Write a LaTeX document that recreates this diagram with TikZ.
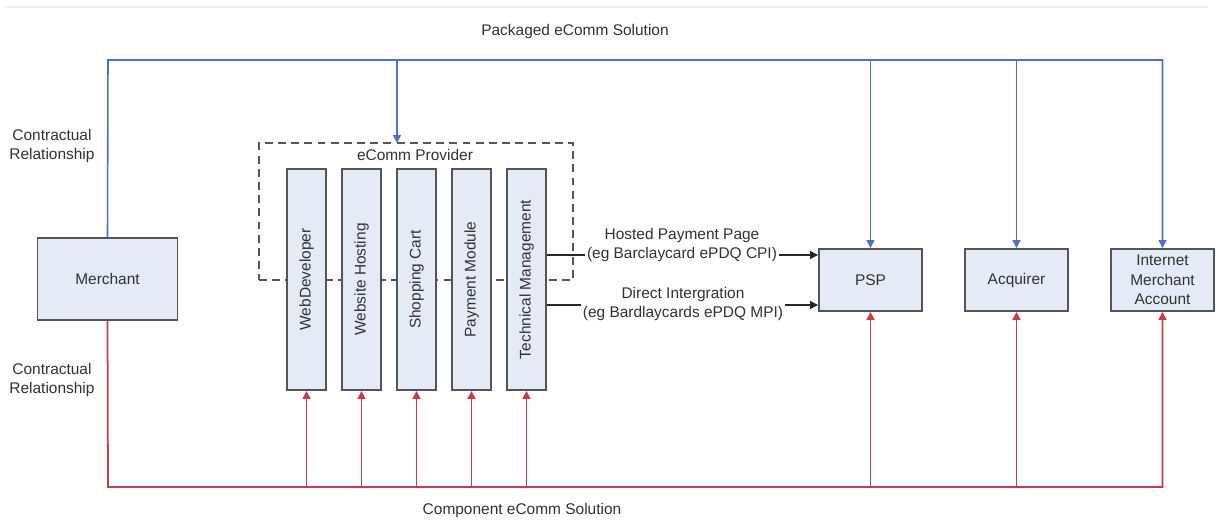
\documentclass[tikz,border=0pt]{standalone}
\usepackage{fontspec}
\setmainfont{Liberation Sans}
\usetikzlibrary{arrows.meta}
\definecolor{boxfill}{RGB}{228,234,246}
\definecolor{boxline}{RGB}{85,85,85}
\definecolor{packblue}{RGB}{80,112,205}
\definecolor{compred}{RGB}{200,60,70}
\definecolor{txtgray}{RGB}{50,50,50}
\begin{document}
\begin{tikzpicture}[
  x=0.02cm, y=-0.02cm,
  every node/.style={font=\fontsize{8.8}{11}\selectfont, text=txtgray},
  party/.style={draw=boxline, line width=1.1pt, fill=boxfill, minimum width=2.06cm, minimum height=1.24cm, align=center, inner sep=1pt},
  part/.style={party, rotate=90, minimum width=4.42cm, minimum height=0.78cm},
  provider/.style={draw=boxline, line width=1.1pt, dash pattern=on 4.5pt off 3pt, minimum width=6.28cm, minimum height=2.74cm},
  packaged/.style={draw=packblue, line width=0.9pt},
  component/.style={draw=compred, line width=1pt},
  flow/.style={draw=black!85, line width=0.8pt},
  headed/.style={-{Triangle[width=4.5pt,length=4.5pt]}},
  flowtext/.style={align=center, fill=white, inner sep=1pt}
]
\useasboundingbox (0,0) rectangle (1221,521);
\draw[gray!12, line width=1.5pt] (5,7) -- (1208,7);

% parties
\node[party, minimum width=2.8cm, minimum height=1.64cm] (merchant) at (107.5,279) {Merchant};
\node[party] (psp) at (870.5,280) {PSP};
\node[party] (acq) at (1016.5,280) {Acquirer};
\node[party] (ima) at (1162.5,280) {Internet\\Merchant\\Account};

% eComm provider and its parts
\node[provider] (prov) at (416,211.5) {};
\node (provtitle) at (415,155) {eComm Provider};
\foreach \t [count=\i] in {WebDeveloper, Website Hosting, Shopping Cart, Payment Module, Technical Management}
  \node[part] (p\i) at (251.5+55*\i,279.5) {\t};

% packaged solution
\coordinate (pk) at (108,60);
\coordinate (provin) at (397,143);
\draw[packaged, headed] (merchant.north) -- (pk) -| (ima.north);
\draw[packaged, headed] (pk -| provin) -- (provin);
\foreach \n in {psp,acq}
  \draw[packaged, headed] (pk -| \n.north) -- (\n.north);

% component solution
\coordinate (ck) at (108,487);
\draw[component, headed] (merchant.south) -- (ck) -| (ima.south);
\foreach \i in {1,...,5}
  \draw[component, headed] (ck -| p\i.west) -- (p\i.west);
\foreach \n in {psp,acq}
  \draw[component, headed] (ck -| \n.south) -- (\n.south);

% integration to PSP
\coordinate (hp) at (546.5,255);
\coordinate (di) at (546.5,305);
\draw[flow, headed] (hp) -- (hp -| psp.west);
\draw[flow, headed] (di) -- (di -| psp.west);
\node[flowtext] (hosted) at (682,245) {Hosted Payment Page\\(eg Barclaycard ePDQ CPI)};
\node[flowtext] (direct) at (683,304) {Direct Intergration\\(eg Bardlaycards ePDQ MPI)};

% labels
\node (packtitle) at (575,32) {Packaged eComm Solution};
\node (comptitle) at (522,510) {Component eComm Solution};
\node[align=center] (relup) at (52,146) {Contractual\\Relationship};
\node[align=center] (reldown) at (52,380) {Contractual\\Relationship};
\end{tikzpicture}
\end{document}
